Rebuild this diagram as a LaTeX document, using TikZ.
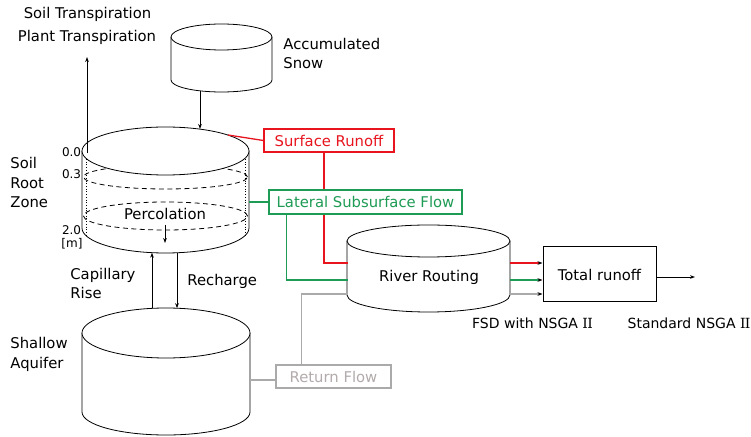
\documentclass[tikz,border=0pt]{standalone}
\usepackage{fontspec}
\setmainfont{DejaVu Sans}
\newfontfamily\romanfont{DejaVu Serif}
\usetikzlibrary{arrows.meta}

\definecolor{runoffred}{HTML}{E8141E}
\definecolor{flowgreen}{HTML}{1E9B55}
\definecolor{returngray}{HTML}{AAAAAA}
\definecolor{returntext}{HTML}{B3ABAB}

% side walls and lower rim of a can: cx, Y of top rim centre, rx, Y of bottom rim centre, ry of bottom rim
\newcommand\canbody[5]{%
  \filldraw[fill=white] (#1-#3,#2) -- (#1-#3,#4)
    arc[start angle=180,end angle=360,x radius=#3,y radius=#5] -- (#1+#3,#2);}
% top face of a can: cx, Y, rx, ry
\newcommand\cantop[4]{%
  \filldraw[fill=white] (#1,#2) ellipse[x radius=#3,y radius=#4];}
% roman numeral two with serifs
\newcommand\romantwo{{\romanfont I\kern-0.05em I}}

\begin{document}
\begin{tikzpicture}[x=1pt,y=1pt,line width=0.8pt,
  every node/.style={font=\fontsize{14.8}{19.5}\selectfont,inner sep=0pt},
  small/.style={font=\fontsize{12}{14}\selectfont},
  note/.style={font=\fontsize{14}{16}\selectfont},
  tip/.style={-{Stealth[length=5pt,width=3.6pt]}},
  ctip/.style={-{Stealth[length=5pt,width=3.6pt,color=black]}},
  flowbox/.style={draw,fill=white,line width=1.3pt,minimum height=23pt},
  redline/.style={draw=runoffred,line width=1.3pt},
  greenline/.style={draw=flowgreen,line width=1.3pt},
  grayline/.style={draw=returngray,line width=1.3pt}]

\useasboundingbox (0,0) rectangle (751,436);

% ---- accumulated snow
\canbody{221.5}{399}{50.5}{356}{12}
\cantop{221.5}{399}{50.5}{13}
\node[anchor=west,align=left] (snowlbl) at (283,382.5) {Accumulated\\Snow};

% ---- soil root zone
\canbody{165.5}{285}{83.5}{208}{25}
\draw[dash pattern=on 5pt off 3.5pt] (165.5,259) ellipse[x radius=82,y radius=12];
\draw[dash pattern=on 5pt off 3.5pt] (165.5,220) ellipse[x radius=82,y radius=14];
\draw[dotted,line width=0.7pt] (86,285) -- (86,201);
\draw[dotted,line width=0.7pt] (245,285) -- (245,201);
\cantop{165.5}{285}{83.5}{24}
\node (perc) at (165,222) {Percolation};
\node[anchor=west,align=left] (rootlbl) at (10,253.5) {Soil\\Root\\Zone};
\node[small,anchor=east] (d00) at (81.5,284) {0.0};
\node[small,anchor=east] (d03) at (81.5,262) {0.3};
\node[small,anchor=east] (d20) at (81.5,206) {2.0};
\node[small] (dunit) at (72,192) {[m]};

% ---- shallow aquifer
\canbody{166}{103}{84}{24}{23}
\cantop{166}{103}{84}{25}
\node[anchor=west,align=left] (aqlbl) at (10,81.5) {Shallow\\Aquifer};

% ---- river routing
\canbody{428.5}{195}{81.5}{141}{17}
\cantop{428.5}{195}{81.5}{16}
\node (river) at (429,159) {River Routing};

% ---- labels
\node (tsoil) at (87.5,422) {Soil Transpiration};
\node (tplant) at (87,399) {Plant Transpiration};
\node[anchor=west,align=left] (caprise) at (70,152.5) {Capillary\\Rise};
\node[anchor=west] (recharge) at (187,155) {Recharge};
\node[note] (fsd) at (532.5,113) {FSD with NSGA \romantwo};
\node[note] (std) at (689,113) {Standard NSGA \romantwo};

% ---- attachment points on the cans
\coordinate (snowout) at (200,345);
\coordinate (soilin) at (200,307);
\coordinate (transfoot) at (87,283);
\coordinate (transtop) at (87,379);
\coordinate (soiltopR) at (228,301);
\coordinate (soilR) at (249,234);
\coordinate (soilbotA) at (152,183.3);
\coordinate (soilbotB) at (177,183.2);
\coordinate (aqtopA) at (152,127.6);
\coordinate (aqtopB) at (177,127.8);
\coordinate (aqR) at (250,56);
\coordinate (percA) at (165,211);
\coordinate (percB) at (165,193);
\coordinate (rivinR) at (347.5,173);
\coordinate (rivinG) at (347.5,156);
\coordinate (rivinK) at (347.5,142);
\coordinate (rivoutR) at (510,173);
\coordinate (rivoutG) at (510,156);
\coordinate (rivoutK) at (510,142);
\coordinate (outend) at (695,159);

% ---- vertical water exchanges
\draw[tip] (snowout) -- (soilin);
\draw[tip] (transfoot) -- (transtop);
\draw[tip] (aqtopA) -- (soilbotA);
\draw[tip] (soilbotB) -- (aqtopB);
\draw[tip,line width=0.7pt] (percA) -- (percB);

% ---- surface runoff
\node[flowbox,draw=runoffred,text=runoffred,minimum width=130pt] (surf) at (329,295.5) {Surface Runoff};
\draw[redline] (soiltopR) -- (surf.west);
\draw[redline] ([xshift=-5pt]surf.south) |- (rivinR);

% ---- lateral subsurface flow
\node[flowbox,draw=flowgreen,text=flowgreen,minimum width=193pt,minimum height=24pt] (lat) at (365.5,234) {Lateral Subsurface Flow};
\draw[greenline] (soilR) -- (lat.west);
\draw[greenline] ([xshift=18pt]lat.south west) |- (rivinG);

% ---- return flow
\node[flowbox,draw=returngray,text=returntext,minimum width=115pt] (ret) at (333.5,59.5) {Return Flow};
\draw[grayline] (aqR) -- (aqR -| ret.west);
\draw[grayline] ([xshift=26pt]ret.north west) |- (rivinK);

% ---- total runoff
\node[draw,line width=1pt,minimum width=113pt,minimum height=55pt] (total) at (599.5,161.5) {Total runoff};
\draw[redline,ctip] (rivoutR) -- (rivoutR -| total.west);
\draw[greenline,ctip] (rivoutG) -- (rivoutG -| total.west);
\draw[grayline,ctip] (rivoutK) -- (rivoutK -| total.west);
\draw[tip] (outend -| total.east) -- (outend);

\end{tikzpicture}
\end{document}
